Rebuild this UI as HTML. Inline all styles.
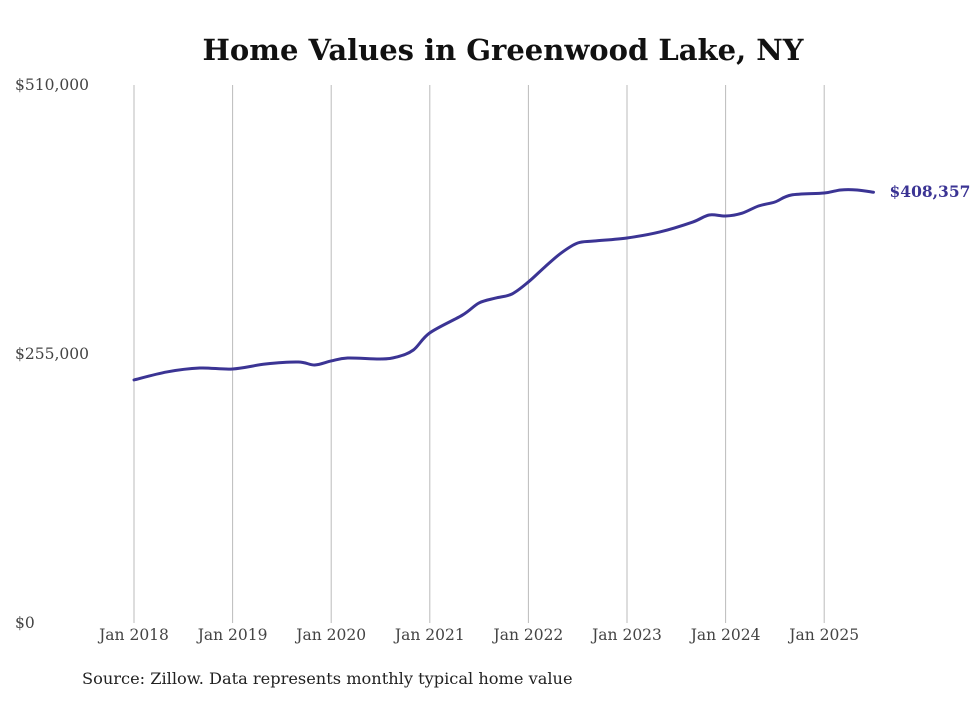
<!DOCTYPE html>
<html><head><meta charset="utf-8"><style>
body{margin:0;background:#fff;width:980px;height:699px;overflow:hidden;font-family:"DejaVu Serif",serif}
</style></head><body>
<svg id="c" width="980" height="699" xmlns="http://www.w3.org/2000/svg" font-family="DejaVu Serif, serif">
<text x="503" y="60" text-anchor="middle" font-weight="bold" font-size="29" fill="#111">Home Values in Greenwood Lake, NY</text>
<text x="82" y="684" font-size="16.2" fill="#222">Source: Zillow. Data represents monthly typical home value</text>
<g id="grid"></g><g id="yt"></g><g id="xt"></g><g id="ln"></g>
</svg>
<script>
const months=[0,4,8,12,16,20,22,24,26,30,32,34,36,40,42,44,46,48,50,52,54,56,60,64,68,70,72,74,76,78,80,84,86,88,90];
const values=[230400,238000,241700,240800,245500,247400,244600,248400,251200,250300,252200,258800,275000,292000,303400,308000,311900,323300,337500,350800,360200,362100,365000,370700,380100,386800,385800,388500,395300,399100,405700,407600,410500,410500,408357];
const yTicks=[0,255000,510000];
const yLabels=["$0","$255,000","$510,000"];
const xYears=["Jan 2018","Jan 2019","Jan 2020","Jan 2021","Jan 2022","Jan 2023","Jan 2024","Jan 2025"];
const lastLabel="$408,357";
const NS="http://www.w3.org/2000/svg";
const x=m=>134+m*(98.6/12);
const y=v=>623-v/510000*538;
function mk(t,a,p,txt){const e=document.createElementNS(NS,t);for(const k in a)e.setAttribute(k,a[k]);if(txt!==undefined)e.textContent=txt;document.getElementById(p).appendChild(e);return e;}
xYears.forEach((lab,i)=>{
 const gx=x(i*12);
 const l=mk('line',{x1:gx,x2:gx,y1:85,y2:623,stroke:'#bbb','stroke-width':1},'grid');
 
 
 const t=mk('text',{x:gx,y:640,'text-anchor':'middle','font-size':15.5,fill:'#444'},'xt',lab);
 
 
});
yTicks.forEach((v,i)=>{
 const t=mk('text',{x:15,y:y(v)+5,'font-size':15.5,fill:'#444'},'yt',yLabels[i]);
 
 
});
const pts=months.map((m,i)=>[x(m),y(values[i])]);
let d='M'+pts[0][0]+','+pts[0][1];
for(let i=0;i<pts.length-1;i++){
 const p0=pts[i-1]||pts[i],p1=pts[i],p2=pts[i+1],p3=pts[i+2]||p2;
 d+=' C'+(p1[0]+(p2[0]-p0[0])/6)+','+(p1[1]+(p2[1]-p0[1])/6)+' '+(p2[0]-(p3[0]-p1[0])/6)+','+(p2[1]-(p3[1]-p1[1])/6)+' '+p2[0]+','+p2[1];
}
const path=mk('path',{d:d,fill:'none',stroke:'#3b3494','stroke-width':3,'stroke-linecap':'round'},'ln');


const last=pts[pts.length-1];
const lt=mk('text',{x:last[0]+16,y:last[1]+5,'font-size':15.5,'font-weight':'bold',fill:'#3b3494'},'ln',lastLabel);


</script>
</body></html>
